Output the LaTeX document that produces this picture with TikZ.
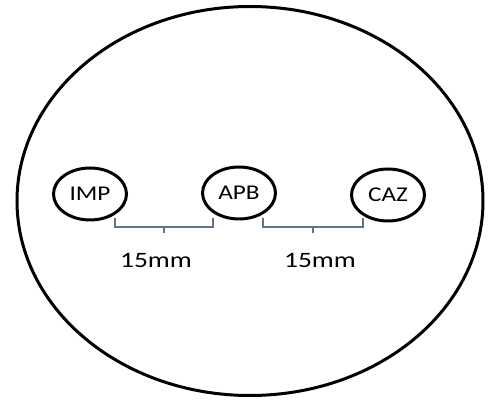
\documentclass[tikz,border=0pt]{standalone}
\usepackage{fontspec}
\setmainfont{Carlito}
\usetikzlibrary{shapes.geometric}
\begin{document}
\begin{tikzpicture}[x=1pt,y=-1pt,
  disk/.style={draw=black,line width=3pt,ellipse,minimum width=73pt,minimum height=52pt,inner sep=0pt,
    font=\fontsize{21}{21}\selectfont},
  brace/.style={draw={rgb,255:red,95;green,115;blue,140},line width=1.6pt},
  lbl/.style={font=\fontsize{22}{22}\selectfont,inner sep=0pt}]
\useasboundingbox (0,0) rectangle (491,401);
\node[draw=black,line width=3pt,ellipse,minimum width=466pt,minimum height=389pt,inner sep=0pt] (plate) at (250,201) {};
\node[disk] (imp) at (90,194) {\scalebox{1.2}[1]{IMP}};
\node[disk] (apb) at (239,193) {\scalebox{1.2}[1]{APB}};
\node[disk] (caz) at (388,195) {\scalebox{1.2}[1]{CAZ}};
\coordinate (b1a) at (115,218);
\coordinate (b1b) at (213,218);
\coordinate (b2a) at (263,218);
\coordinate (b2b) at (363,218);
\draw[brace] (b1a) -- ++(0,9) -| (b1b);
\draw[brace] (164,227) -- ++(0,6);
\draw[brace] (b2a) -- ++(0,9) -| (b2b);
\draw[brace] (313,227) -- ++(0,6);
\node[lbl] (d1) at (156,260) {\scalebox{1.25}[1]{15mm}};
\node[lbl] (d2) at (320,260) {\scalebox{1.25}[1]{15mm}};
\end{tikzpicture}
\end{document}
